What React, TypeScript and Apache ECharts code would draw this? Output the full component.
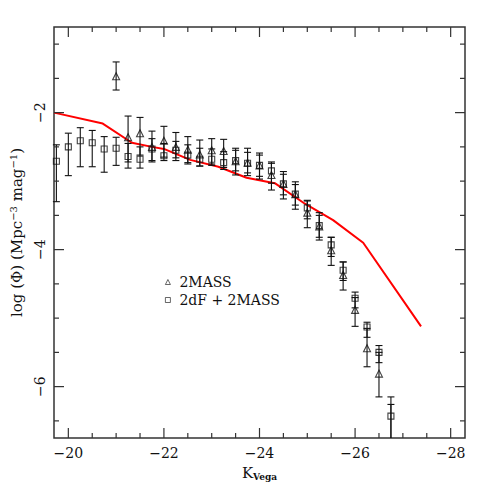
import React, { useEffect, useRef } from "react";
import * as echarts from "echarts";

// K_Vega bins
const kSquares = [-19.75, -20.0, -20.25, -20.5, -20.75, -21.0, -21.25, -21.5, -21.75, -22.0, -22.25, -22.5, -22.75, -23.0, -23.25, -23.5, -23.75, -24.0, -24.25, -24.5, -24.75, -25.0, -25.25, -25.5, -25.75, -26.0, -26.25, -26.5, -26.75];
const phiSquares = [-2.71, -2.50, -2.41, -2.44, -2.53, -2.52, -2.64, -2.68, -2.53, -2.63, -2.55, -2.62, -2.68, -2.68, -2.73, -2.70, -2.74, -2.77, -2.85, -3.04, -3.19, -3.39, -3.65, -3.93, -4.30, -4.71, -5.13, -5.50, -6.43];
const hiSquares = [-2.47, -2.30, -2.22, -2.26, -2.35, -2.36, -2.45, -2.50, -2.38, -2.45, -2.42, -2.47, -2.52, -2.53, -2.57, -2.55, -2.58, -2.62, -2.72, -2.90, -3.05, -3.28, -3.50, -3.82, -4.18, -4.62, -5.06, -5.40, -6.15];
const loSquares = [-3.30, -2.92, -2.79, -2.79, -2.87, -2.77, -2.81, -2.81, -2.70, -2.70, -2.66, -2.73, -2.78, -2.77, -2.83, -2.85, -2.88, -2.93, -3.03, -3.20, -3.35, -3.55, -3.82, -4.10, -4.45, -4.85, -5.28, -5.65, -7.50];

const kTriangles = [-21.0, -21.25, -21.5, -21.75, -22.0, -22.25, -22.5, -22.75, -23.0, -23.25, -23.5, -23.75, -24.0, -24.25, -24.5, -24.75, -25.0, -25.25, -25.5, -25.75, -26.0, -26.25, -26.5, -26.75];
const phiTriangles = [-1.47, -2.36, -2.30, -2.50, -2.41, -2.50, -2.54, -2.61, -2.55, -2.56, -2.71, -2.73, -2.77, -2.91, -3.04, -3.19, -3.46, -3.66, -4.01, -4.37, -4.88, -5.44, -5.81, -7.00];
const hiTriangles = [-1.26, -2.05, -2.07, -2.27, -2.20, -2.29, -2.35, -2.40, -2.38, -2.39, -2.52, -2.52, -2.59, -2.74, -2.86, -3.01, -3.29, -3.46, -3.82, -4.18, -4.70, -5.15, -5.50, -6.26];
const loTriangles = [-1.67, -2.72, -2.62, -2.72, -2.65, -2.70, -2.75, -2.78, -2.75, -2.80, -2.91, -2.92, -2.97, -3.13, -3.26, -3.41, -3.68, -3.86, -4.23, -4.59, -5.12, -5.71, -6.15, -7.80];

// model curve (red)
const kModel = [-19.7, -20.72, -21.33, -21.75, -22.0, -22.55, -23.14, -23.73, -24.32, -24.95, -25.54, -26.17, -27.38];
const phiModel = [-2.00, -2.16, -2.44, -2.50, -2.53, -2.69, -2.79, -2.95, -3.03, -3.33, -3.57, -3.90, -5.12];

// axes
const X_MIN = -28.3;
const X_MAX = -19.7;
const Y_MIN = -6.75;
const Y_MAX = -0.75;
const xMajorTicks = [-20, -22, -24, -26, -28];
const xMinorTicks = [-20.5, -21, -21.5, -22.5, -23, -23.5, -24.5, -25, -25.5, -26.5, -27, -27.5];
const yMajorTicks = [-2, -4, -6];
const yMinorTicks = [-1, -1.5, -2.5, -3, -3.5, -4.5, -5, -5.5, -6.5];

const FONT = "DejaVu Serif";
const fmtMinus = (v: number) => String(Math.round(v)).replace("-", "\u2212");

export default function App() {
  const ref = useRef<HTMLDivElement>(null);
  useEffect(() => {
    if (!ref.current) return;
    const chart = echarts.init(ref.current, null, { renderer: "svg" });

    const errRender = (params: any, api: any) => {
      const x = api.value(0);
      const lo = api.value(1);
      const hi = api.value(2);
      const cs = params.coordSys;
      const pLo = api.coord([x, lo]);
      const pHi = api.coord([x, hi]);
      const top = cs.y;
      const bot = cs.y + cs.height;
      const clamp = (y: number) => Math.max(top, Math.min(bot, y));
      const st = { stroke: "#111", lineWidth: 1.1 };
      const children: any[] = [
        { type: "line", shape: { x1: pLo[0], y1: clamp(pHi[1]), x2: pLo[0], y2: clamp(pLo[1]) }, style: st },
      ];
      const cw = 3.5;
      if (pHi[1] >= top && pHi[1] <= bot)
        children.push({ type: "line", shape: { x1: pHi[0] - cw, y1: pHi[1], x2: pHi[0] + cw, y2: pHi[1] }, style: st });
      if (pLo[1] <= bot && pLo[1] >= top)
        children.push({ type: "line", shape: { x1: pLo[0] - cw, y1: pLo[1], x2: pLo[0] + cw, y2: pLo[1] }, style: st });
      return { type: "group", children };
    };

    const xTickRender = (params: any, api: any) => {
      const v = api.value(0);
      const major = api.value(2) === 1;
      const cs = params.coordSys;
      const p = api.coord([v, Y_MIN]);
      const len = major ? 10 : 5;
      const st = { stroke: "#333", lineWidth: 1.2 };
      return {
        type: "group",
        children: [
          { type: "line", shape: { x1: p[0], y1: cs.y + cs.height, x2: p[0], y2: cs.y + cs.height - len }, style: st },
          { type: "line", shape: { x1: p[0], y1: cs.y, x2: p[0], y2: cs.y + len }, style: st },
        ],
      };
    };
    const yTickRender = (params: any, api: any) => {
      const v = api.value(1);
      const major = api.value(2) === 1;
      const cs = params.coordSys;
      const p = api.coord([X_MAX, v]);
      const len = major ? 10 : 5;
      const st = { stroke: "#333", lineWidth: 1.2 };
      return {
        type: "group",
        children: [
          { type: "line", shape: { x1: cs.x, y1: p[1], x2: cs.x + len, y2: p[1] }, style: st },
          { type: "line", shape: { x1: cs.x + cs.width, y1: p[1], x2: cs.x + cs.width - len, y2: p[1] }, style: st },
        ],
      };
    };

    const xTickData = [
      ...xMajorTicks.map((v) => [v, Y_MIN, 1]),
      ...xMinorTicks.map((v) => [v, Y_MIN, 0]),
    ];
    const yTickData = [
      ...yMajorTicks.map((v) => [X_MAX, v, 1]),
      ...yMinorTicks.map((v) => [X_MAX, v, 0]),
    ];

    const symStyle = { color: "transparent", borderColor: "#111", borderWidth: 1.1 };

    chart.setOption({
      animation: false,
      backgroundColor: "#fff",
      textStyle: { fontFamily: FONT },
      grid: { left: 53, right: 26, top: 27, bottom: 53, show: true, borderColor: "#333", borderWidth: 1.5, backgroundColor: "transparent" },
      legend: {
        data: ["2MASS", "2dF + 2MASS"],
        orient: "vertical",
        left: 160,
        top: 270,
        itemWidth: 5,
        itemHeight: 5,
        itemGap: 4,
        selectedMode: false,
        itemStyle: { color: "transparent", borderColor: "#111", borderWidth: 0.8 },
        textStyle: { fontFamily: FONT, fontSize: 14, color: "#111", padding: [0, 0, 0, 4] },
      },
      xAxis: {
        type: "value",
        min: X_MIN,
        max: X_MAX,
        interval: 0.1,
        inverse: true,
        axisLine: { show: false },
        axisTick: { show: false },
        splitLine: { show: false },
        axisLabel: {
          margin: 8,
          fontFamily: FONT,
          fontSize: 14,
          color: "#111",
          showMinLabel: false,
          showMaxLabel: false,
          formatter: (v: number) => (Math.abs(v / 2 - Math.round(v / 2)) < 1e-6 ? fmtMinus(v) : ""),
        },
        name: "{k|K}{s|Vega}",
        nameLocation: "middle",
        nameGap: 26,
        nameTextStyle: {
          rich: {
            k: { fontFamily: FONT, fontSize: 15, color: "#111" },
            s: { fontFamily: FONT, fontSize: 9, fontWeight: "bold", color: "#111", padding: [8, 0, 0, 0] },
          },
        },
      },
      yAxis: {
        type: "value",
        min: Y_MIN,
        max: Y_MAX,
        interval: 0.25,
        axisLine: { show: false },
        axisTick: { show: false },
        splitLine: { show: false },
        axisLabel: {
          margin: 7,
          rotate: 90,
          fontFamily: FONT,
          fontSize: 14,
          color: "#111",
          showMinLabel: false,
          showMaxLabel: false,
          formatter: (v: number) => (Math.abs(v / 2 - Math.round(v / 2)) < 1e-6 ? fmtMinus(v) : ""),
        },
        name: "log (\u03A6) (Mpc{sup|\u22123} mag{sup|\u22121})",
        nameLocation: "middle",
        nameRotate: 90,
        nameGap: 28,
        nameTextStyle: {
          fontFamily: FONT,
          fontSize: 15,
          color: "#111",
          rich: {
            sup: { fontFamily: FONT, fontSize: 10, color: "#111", padding: [0, 0, 8, 0] },
          },
        },
      },
      series: [
        {
          type: "custom",
          name: "xticks",
          silent: true,
          renderItem: xTickRender,
          data: xTickData,
          z: 5,
        },
        {
          type: "custom",
          name: "yticks",
          silent: true,
          renderItem: yTickRender,
          data: yTickData,
          z: 5,
        },
        {
          type: "line",
          name: "model",
          data: kModel.map((k, i) => [k, phiModel[i]]),
          showSymbol: false,
          symbol: "none",
          clip: true,
          lineStyle: { color: "#ff0000", width: 2 },
          silent: true,
          z: 2,
        },
        {
          type: "custom",
          name: "errSquares",
          silent: true,
          renderItem: errRender,
          data: kSquares.map((k, i) => [k, loSquares[i], hiSquares[i]]),
          z: 3,
        },
        {
          type: "custom",
          name: "errTriangles",
          silent: true,
          renderItem: errRender,
          data: kTriangles.map((k, i) => [k, loTriangles[i], hiTriangles[i]]),
          z: 3,
        },
        {
          type: "scatter",
          name: "2MASS",
          symbol: "triangle",
          symbolSize: 7,
          clip: true,
          itemStyle: symStyle,
          data: kTriangles.map((k, i) => [k, phiTriangles[i]]),
          silent: true,
          z: 4,
        },
        {
          type: "scatter",
          name: "2dF + 2MASS",
          symbol: "rect",
          symbolSize: 6,
          clip: true,
          itemStyle: symStyle,
          data: kSquares.map((k, i) => [k, phiSquares[i]]),
          silent: true,
          z: 4,
        },
      ],
    });
    return () => chart.dispose();
  }, []);
  return (
    <div
      ref={ref}
      style={{ position: "fixed", left: 0, top: 0, width: 491, height: 491, background: "#fff" }}
    />
  );
}
